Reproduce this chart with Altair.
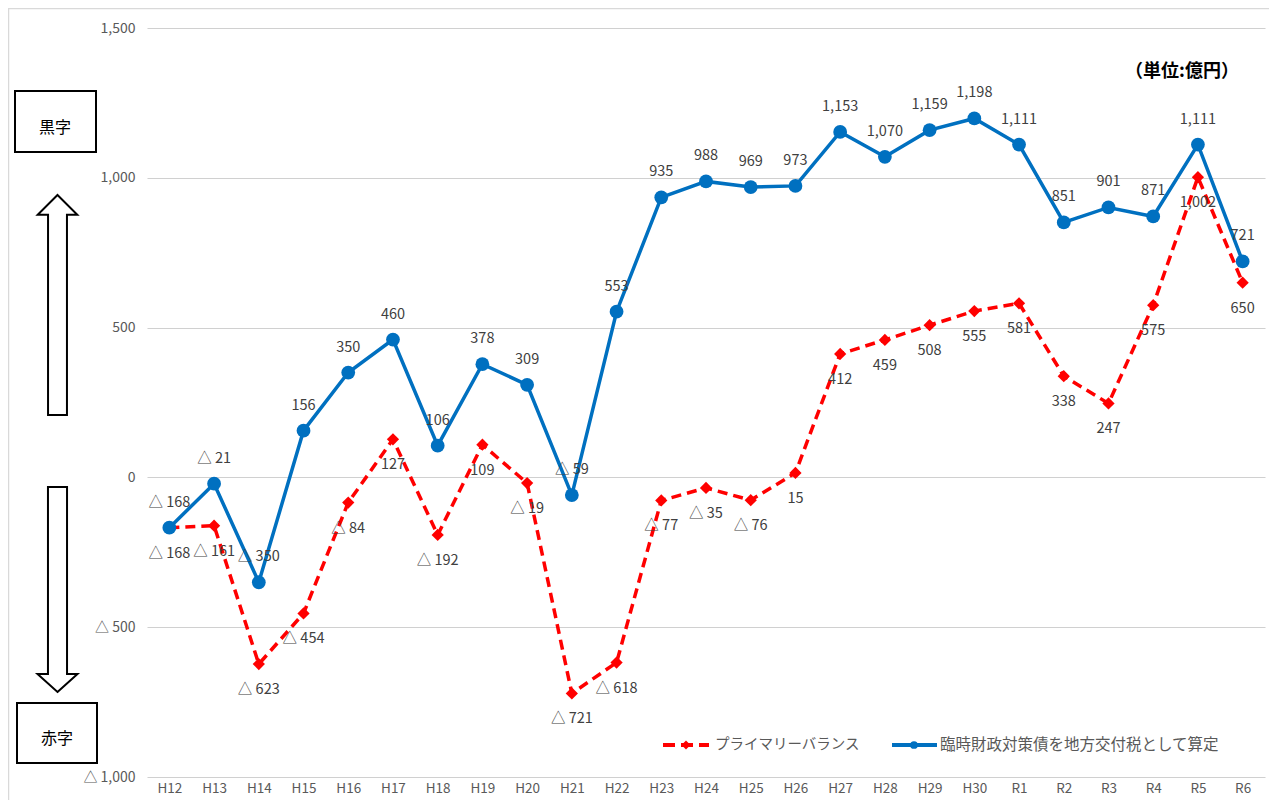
import altair as alt
import pandas as pd

categories = ["H12", "H13", "H14", "H15", "H16", "H17", "H18", "H19", "H20", "H21",
              "H22", "H23", "H24", "H25", "H26", "H27", "H28", "H29", "H30",
              "R1", "R2", "R3", "R4", "R5", "R6"]
primary_balance = [-168, -161, -623, -454, -84, 127, -192, 109, -19, -721,
                   -618, -77, -35, -76, 15, 412, 459, 508, 555,
                   581, 338, 247, 575, 1002, 650]
rinzai_as_kofuzei = [-168, -21, -350, 156, 350, 460, 106, 378, 309, -59,
                     553, 935, 988, 969, 973, 1153, 1070, 1159, 1198,
                     1111, 851, 901, 871, 1111, 721]
series_names = ["プライマリーバランス", "臨時財政対策債を地方交付税として算定"]
unit_text = "（単位:億円）"

FONT = "Noto Sans CJK JP"
RED = "#FF0000"
BLUE = "#0070C0"
W, H = 1118, 749


def fmt(v):
    return "△ " + f"{abs(v):,}" if v < 0 else f"{v:,}"


red_df = pd.DataFrame({"cat": categories, "value": primary_balance,
                       "label": [fmt(v) for v in primary_balance]})
blue_df = pd.DataFrame({"cat": categories, "value": rinzai_as_kofuzei,
                        "label": [fmt(v) for v in rinzai_as_kofuzei]})

x_enc = alt.X("cat:N", sort=categories,
              scale=alt.Scale(type="point", padding=0.5),
              axis=alt.Axis(title=None, labelAngle=0, domain=False, ticks=False,
                            labelPadding=4, labelFontSize=13.5, labelColor="#595959",
                            labelFont=FONT, grid=False))
y_enc = alt.Y("value:Q", scale=alt.Scale(domain=[-1000, 1500], nice=False, zero=False),
              axis=alt.Axis(title=None, values=[-1000, -500, 0, 500, 1000, 1500],
                            labelExpr="datum.value < 0 ? '△ ' + format(-datum.value, ',') : format(datum.value, ',')",
                            domain=False, ticks=False, grid=True, gridColor="#d0d0d0",
                            gridWidth=1.2, labelPadding=12, labelFontSize=14,
                            labelColor="#595959", labelFont=FONT))

one = alt.Data(values=[{"a": 1}])

# outer frame
frame = alt.Chart(one).mark_rect(fill=None, stroke="#d9d9d9", strokeWidth=1.5).encode(
    x=alt.value(-138.5), x2=alt.value(W + 200), y=alt.value(-19.5), y2=alt.value(H + 200))

red_line = alt.Chart(red_df).mark_line(color=RED, strokeWidth=3.5, strokeDash=[10, 6]).encode(
    x=x_enc, y=y_enc)
red_pts = alt.Chart(red_df).mark_point(shape="diamond", filled=True, color=RED, size=150, opacity=1).encode(
    x=alt.X("cat:N", sort=categories), y="value:Q")
red_lbl = alt.Chart(red_df).mark_text(dy=26, fontSize=14.5, font=FONT, color="#404040").encode(
    x=alt.X("cat:N", sort=categories), y="value:Q", text="label:N")

blue_line = alt.Chart(blue_df).mark_line(color=BLUE, strokeWidth=3.5).encode(
    x=alt.X("cat:N", sort=categories), y="value:Q")
blue_pts = alt.Chart(blue_df).mark_point(shape="circle", filled=True, color=BLUE, size=190, opacity=1).encode(
    x=alt.X("cat:N", sort=categories), y="value:Q")
blue_lbl = alt.Chart(blue_df).mark_text(dy=-25, fontSize=14.5, font=FONT, color="#404040").encode(
    x=alt.X("cat:N", sort=categories), y="value:Q", text="label:N")

# unit text
unit = alt.Chart(one).mark_text(fontSize=18, font=FONT, fontWeight="bold", color="#000000").encode(
    x=alt.value(1035), y=alt.value(44), text=alt.value(unit_text))

# legend (manual)
leg_y = 717
leg_red_line = alt.Chart(one).mark_rule(color=RED, strokeWidth=4, strokeDash=[12, 6]).encode(
    x=alt.value(516), x2=alt.value(562), y=alt.value(leg_y))
leg_red_pt = alt.Chart(one).mark_point(shape="diamond", filled=True, color=RED, size=80, opacity=1).encode(
    x=alt.value(539), y=alt.value(leg_y))
leg_red_txt = alt.Chart(one).mark_text(align="left", fontSize=14.5, font=FONT, color="#595959").encode(
    x=alt.value(568), y=alt.value(leg_y), text=alt.value(series_names[0]))
leg_blue_line = alt.Chart(one).mark_rule(color=BLUE, strokeWidth=4).encode(
    x=alt.value(745), x2=alt.value(790), y=alt.value(leg_y))
leg_blue_pt = alt.Chart(one).mark_point(shape="circle", filled=True, color=BLUE, size=60, opacity=1).encode(
    x=alt.value(767), y=alt.value(leg_y))
leg_blue_txt = alt.Chart(one).mark_text(align="left", fontSize=15.5, font=FONT, color="#595959").encode(
    x=alt.value(793), y=alt.value(leg_y), text=alt.value(series_names[1]))

# left annotations: boxes, arrows, labels
box_black = alt.Chart(one).mark_rect(fill="white", stroke="black", strokeWidth=2).encode(
    x=alt.value(-132), x2=alt.value(-51), y=alt.value(63), y2=alt.value(124))
txt_black = alt.Chart(one).mark_text(fontSize=16, font=FONT, color="black").encode(
    x=alt.value(-92), y=alt.value(100), text=alt.value("黒字"))
box_red = alt.Chart(one).mark_rect(fill="white", stroke="black", strokeWidth=2).encode(
    x=alt.value(-130), x2=alt.value(-50), y=alt.value(675), y2=alt.value(735))
txt_red = alt.Chart(one).mark_text(fontSize=16, font=FONT, color="black").encode(
    x=alt.value(-90), y=alt.value(711), text=alt.value("赤字"))

up_path = "M0,-1 L0.18,-0.82 L0.086,-0.82 L0.086,1 L-0.086,1 L-0.086,-0.82 L-0.18,-0.82 Z"
down_path = "M0,1 L0.195,0.824 L0.093,0.824 L0.093,-1 L-0.093,-1 L-0.093,0.824 L-0.195,0.824 Z"
arrow_up = alt.Chart(one).mark_point(shape=up_path, filled=False, stroke="black", strokeWidth=2,
                                      fill="white", fillOpacity=1, opacity=1, size=48400).encode(
    x=alt.value(-89.5), y=alt.value(277))
arrow_down = alt.Chart(one).mark_point(shape=down_path, filled=False, stroke="black", strokeWidth=2,
                                        fill="white", fillOpacity=1, opacity=1, size=42025).encode(
    x=alt.value(-89.5), y=alt.value(561.5))

chart = alt.layer(
    frame, red_line, red_pts, blue_line, blue_pts, red_lbl, blue_lbl, unit,
    leg_red_line, leg_red_pt, leg_red_txt, leg_blue_line, leg_blue_pt, leg_blue_txt,
    box_black, txt_black, box_red, txt_red, arrow_up, arrow_down
).properties(
    width=W, height=H,
    autosize=alt.AutoSizeParams(type="none"),
    padding={"left": 139, "top": 20, "right": 4, "bottom": 23},
    background="white",
).configure_view(stroke=None)

chart.save("out.html", embed_options={"renderer": "svg", "actions": False})
